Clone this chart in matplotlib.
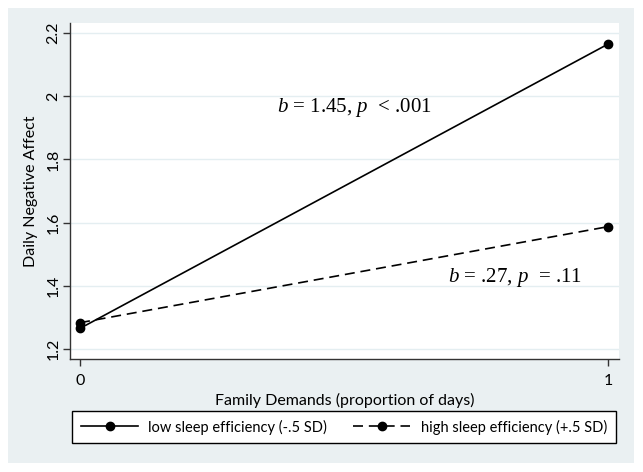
import matplotlib
matplotlib.use("Agg")
import matplotlib.pyplot as plt
from matplotlib.patches import Rectangle
from matplotlib.lines import Line2D

x_vals = [0, 1]
low_eff = [1.265, 2.165]
high_eff = [1.283, 1.587]
yticks = [1.2, 1.4, 1.6, 1.8, 2.0, 2.2]
ytick_labels = ["1.2", "1.4", "1.6", "1.8", "2", "2.2"]
xticks = [0, 1]
xtick_labels = ["0", "1"]
labels = ["low sleep efficiency (-.5 SD)", "high sleep efficiency (+.5 SD)"]
ann1 = r"$b$ = 1.45, $p$  < .001"
ann2 = r"$b$ = .27, $p$  = .11"

plt.rcParams['mathtext.fontset'] = 'custom'
plt.rcParams['mathtext.rm'] = 'Liberation Serif'
plt.rcParams['mathtext.it'] = 'Liberation Serif:italic'
sans = ['Lato', 'DejaVu Sans']
serif = ['Liberation Serif', 'DejaVu Serif']

W, H = 643, 472
fig = plt.figure(figsize=(W / 100, H / 100), dpi=100)
bg = '#EAF0F2'
fig.patches.append(Rectangle((8 / W, 1 - 463 / H), (634 - 8) / W, (463 - 8) / H,
                             transform=fig.transFigure, facecolor=bg, edgecolor='none', zorder=-5))

ax = fig.add_axes([70 / W, 1 - 359 / H, (619 - 70) / W, (359 - 23) / H])
ax.set_zorder(2)
ax.set_facecolor('white')
ax.set_xlim(-0.019, 1.021)
ax.set_ylim(1.168, 2.232)

for yt in yticks:
    ax.axhline(yt, color='#E4EEF1', lw=1.0, zorder=1)

ax.plot(x_vals, low_eff, color='black', lw=1.2, marker='o', ms=6, zorder=3)
ax.plot(x_vals, high_eff, color='black', lw=1.2, ls=(0, (6, 3.5)), marker='o', ms=6, zorder=3)

ax.text(0.373, 1.963, ann1, fontsize=15, va='center', ha='left', family=serif)
ax.text(0.697, 1.425, ann2, fontsize=15, va='center', ha='left', family=serif)

for s in ['top', 'right']:
    ax.spines[s].set_visible(False)
for s in ['left', 'bottom']:
    ax.spines[s].set_color('#333333')
    ax.spines[s].set_linewidth(1.0)

ax.set_yticks(yticks)
ax.set_yticklabels(ytick_labels, rotation=90, va='center', fontsize=11.5, family=sans)
ax.set_xticks(xticks)
ax.set_xticklabels(xtick_labels, fontsize=11.5, family=sans)
ax.tick_params(axis='both', direction='out', length=5, width=1, color='#333333')
ax.tick_params(axis='y', pad=2)
ax.tick_params(axis='x', pad=6)

ax.set_ylabel("Daily Negative Affect", fontsize=11.5, family=sans, labelpad=6)
ax.set_xlabel("Family Demands (proportion of days)", fontsize=11.5, family=sans, labelpad=3)

handles = [Line2D([], [], color='black', lw=1.2, marker='o', ms=6),
           Line2D([], [], color='black', lw=1.2, ls=(0, (6, 3.5)), marker='o', ms=6)]
leg = fig.legend(handles, labels, ncol=2, loc='center',
                 bbox_to_anchor=((76 + 612) / 2 / W, 1 - 427 / H),
                 frameon=True, fancybox=False, edgecolor='black', facecolor='white',
                 framealpha=1, prop={'family': sans, 'size': 10.5}, handlelength=3.9,
                 handletextpad=0.7, columnspacing=1.8, borderpad=0.6, borderaxespad=0)
leg.get_frame().set_linewidth(1.0)

fig.savefig("out.png", dpi=100, facecolor='white')
